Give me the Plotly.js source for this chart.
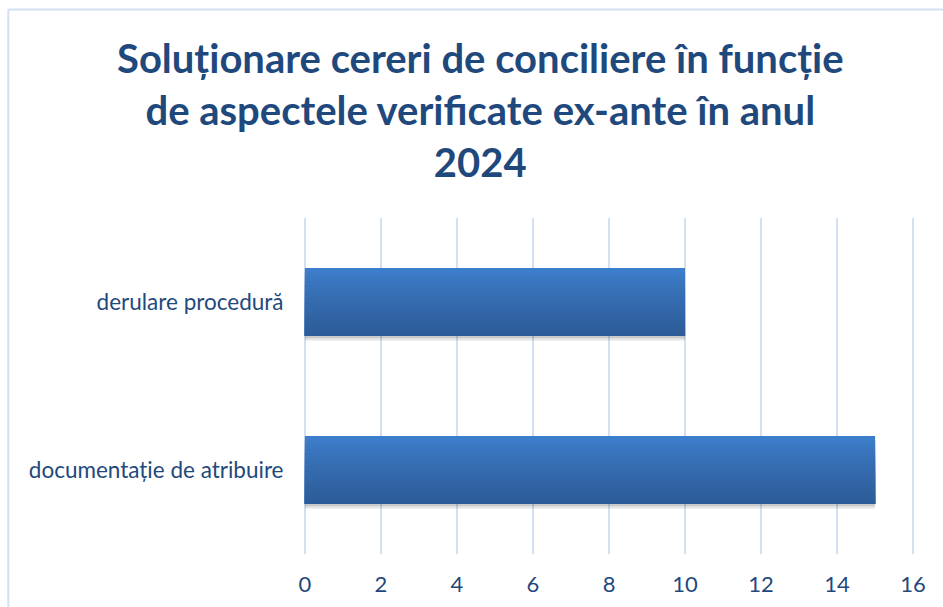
<!DOCTYPE html>
<html>
<head>
<meta charset="utf-8">
<script src="https://cdn.plot.ly/plotly-3.0.1.min.js"></script>
<style>
html,body{margin:0;padding:0;background:#fff;}
#chart{width:943px;height:607px;}
</style>
</head>
<body>
<div id="chart"></div>
<script>
const categories = ["documentație de atribuire", "derulare procedură"];
const values = [15, 10];
const xTicks = [0, 2, 4, 6, 8, 10, 12, 14, 16];
const titleText = "Soluționare cereri de conciliere în funcție<br>de aspectele verificate ex-ante în anul<br>2024";

const barWidth = 0.405;
const nSlices = 16;
const topColor = [60, 126, 203];
const midColor = [55, 113, 183];
const botColor = [45, 92, 152];

function lerp(a, b, t) { return a.map((v, i) => Math.round(v + (b[i] - v) * t)); }

const traces = [];
// soft shadow
traces.push({
  type: 'bar', orientation: 'h', y: categories, x: values,
  width: barWidth, offset: -barWidth / 2 - 0.026,
  marker: {color: 'rgba(0,0,0,0.10)', line: {width: 0}},
  hoverinfo: 'skip', showlegend: false
});
traces.push({
  type: 'bar', orientation: 'h', y: categories, x: values,
  width: barWidth, offset: -barWidth / 2 - 0.014,
  marker: {color: 'rgba(0,0,0,0.12)', line: {width: 0}},
  hoverinfo: 'skip', showlegend: false
});
const sliceW = barWidth / nSlices;
for (let i = 0; i < nSlices; i++) {
  const t = i / (nSlices - 1); // 0 top -> 1 bottom
  const c = t < 0.3 ? lerp(topColor, midColor, t / 0.3) : lerp(midColor, botColor, (t - 0.3) / 0.7);
  const w = barWidth - i * sliceW;
  traces.push({
    type: 'bar', orientation: 'h', y: categories, x: values,
    width: w,
    offset: -barWidth / 2,
    marker: {color: 'rgb(' + c.join(',') + ')', line: {width: 0}},
    hoverinfo: 'x', showlegend: false
  });
}

// plot area: x=0 at 305px, x=16 at 913px, extended slightly so edge gridlines render
const pad = 0.05, pxPerUnit = 38;
const plotW = pxPerUnit * (16 + 2 * pad);
const mL = 305 - pad * pxPerUnit;
const mR = 943 - mL - plotW;
const frameX = (8.5 - mL) / plotW;

const layout = {
  width: 943, height: 607,
  paper_bgcolor: '#ffffff', plot_bgcolor: '#ffffff',
  margin: {l: mL, r: mR, t: 218, b: 53},
  barmode: 'overlay',
  xaxis: {
    range: [-pad, 16 + pad], tickvals: xTicks, ticktext: xTicks.map(String),
    showgrid: true, gridcolor: '#D3E0F2', gridwidth: 2,
    zeroline: false, showline: false,
    ticks: 'outside', ticklen: 11, tickcolor: 'rgba(0,0,0,0)',
    tickfont: {family: 'Lato, sans-serif', size: 22, color: '#1F497D'},
    fixedrange: true
  },
  yaxis: {
    type: 'category', categoryorder: 'array', categoryarray: categories,
    range: [-0.5, 1.5], showgrid: false, zeroline: false, showline: false,
    ticks: 'outside', ticklen: 14, tickcolor: 'rgba(0,0,0,0)',
    tickfont: {family: 'Lato, sans-serif', size: 22.5, color: '#1F497D'},
    fixedrange: true
  },
  annotations: [{
    text: titleText, showarrow: false,
    xref: 'paper', yref: 'paper',
    x: (481 - mL) / plotW, xanchor: 'center',
    y: (554 - 32) / 336, yanchor: 'top',
    align: 'center',
    font: {family: 'Lato, sans-serif', size: 40, color: '#1F497D', weight: 'bold'}
  }],
  shapes: [
    {type: 'line', xref: 'paper', yref: 'paper', x0: frameX, x1: frameX, y0: (554 - 9) / 336, y1: -0.3, line: {color: '#D3E0F2', width: 2}},
    {type: 'line', xref: 'paper', yref: 'paper', x0: frameX, x1: 1.1, y0: (554 - 9.5) / 336, y1: (554 - 9.5) / 336, line: {color: '#D3E0F2', width: 2}}
  ]
};

Plotly.newPlot('chart', traces, layout, {displayModeBar: false, staticPlot: true});
</script>
</body>
</html>
